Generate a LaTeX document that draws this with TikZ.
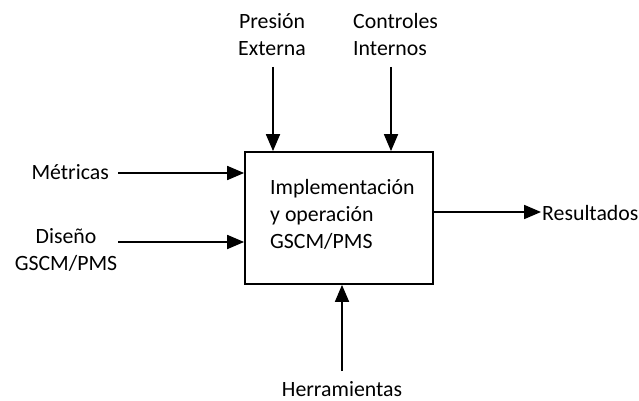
\documentclass[tikz,border=0pt]{standalone}
\usepackage{fontspec}
\setmainfont{Carlito}
\usetikzlibrary{arrows.meta}
\begin{document}
\begin{tikzpicture}[x=1pt,y=-1pt,
  lbl/.style={font=\fontsize{21.8}{27}\selectfont, inner sep=0pt, align=center},
  flow/.style={line width=1.8pt, -{Triangle[length=17pt,width=14pt]}},
  boxst/.style={draw, line width=1.8pt, minimum width=188pt, minimum height=132pt, inner sep=0pt}]
\useasboundingbox (0,0) rectangle (639,401);
% central process box
\node[boxst] (box) at (339,218) {};
\node[lbl, align=left, anchor=west] (txt) at (270,214) {Implementación\\y operación\\GSCM/PMS};
% labels
\node[lbl] (pres) at (272,35) {Presión\\Externa};
\node[lbl, align=left, anchor=west] (ctrl) at (353,35) {Controles\\Internos};
\node[lbl, anchor=east] (metr) at (109,172) {Métricas};
\node[lbl] (dise) at (66,250) {Diseño\\GSCM/PMS};
\node[lbl, anchor=west] (res) at (542,213) {Resultados};
\node[lbl, anchor=base] (herr) at (342,396) {Herramientas};
% inlet points
\coordinate (pA) at (273,67);
\coordinate (cA) at (391,67);
\coordinate (mA) at (118,173);
\coordinate (dA) at (118,242);
\coordinate (hA) at (342,371);
\coordinate (rA) at (541,212);
% arrows
\draw[flow] (pA) -- (pA |- box.north);
\draw[flow] (cA) -- (cA |- box.north);
\draw[flow] (mA) -- (mA -| box.west);
\draw[flow] (dA) -- (dA -| box.west);
\draw[flow] (hA) -- (hA |- box.south);
\draw[flow] (rA -| box.east) -- (rA);
\end{tikzpicture}
\end{document}
